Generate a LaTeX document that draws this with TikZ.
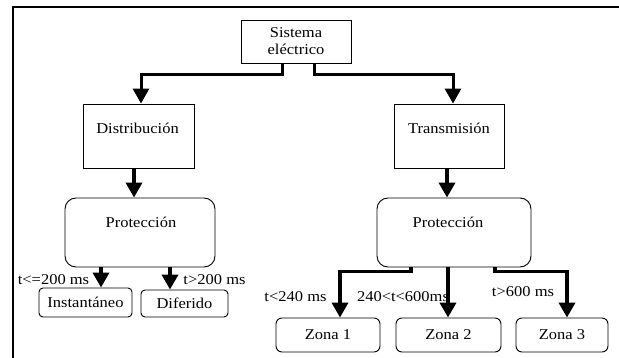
\documentclass[tikz,border=0pt]{standalone}
\usepackage{fontspec}
\usepackage{graphicx}
\setmainfont{Liberation Serif}
\usetikzlibrary{arrows.meta}
\newcommand{\wtxt}[1]{\scalebox{1.1}[1]{#1}}
\begin{document}
\begin{tikzpicture}[x=1pt,y=-1pt,
  every node/.style={font=\fontsize{15}{18}\selectfont, inner sep=0pt},
  sqbox/.style={draw, line width=0.9pt},
  rbox/.style={draw, line width=0.9pt, rounded corners=#1},
  txt/.style={},
  arr/.style={line width=3.6pt, -{Triangle[width=16pt,length=15pt]}},
  arrt/.style={line width=3pt, -{Triangle[width=16pt,length=15pt]}}
]
\useasboundingbox (0,0) rectangle (619,358);
\draw[line width=2.5pt] (13,358) -- (13,7) -- (619,7);

% boxes
\node[sqbox, minimum width=110pt, minimum height=43pt, align=center] (sys) at (296,41.5)
  {\wtxt{Sistema}\\[-1pt]\wtxt{eléctrico}};
\node[sqbox, minimum width=111pt, minimum height=64pt] (dist) at (138.5,136) {};
\node[txt] (distT) at (137.5,128) {\wtxt{Distribución}};
\node[sqbox, minimum width=110pt, minimum height=64pt] (trans) at (449,136) {};
\node[txt] (transT) at (449,128) {\wtxt{Transmisión}};

\node[rbox=11pt, minimum width=150pt, minimum height=69pt] (protL) at (140,232.5) {};
\node[txt] (protLT) at (141,222) {\wtxt{Protección}};
\node[rbox=11pt, minimum width=154pt, minimum height=69pt] (protR) at (454,232.5) {};
\node[txt] (protRT) at (448,222) {\wtxt{Protección}};

\node[rbox=4pt, minimum width=93pt, minimum height=29pt] (inst) at (85.5,302.5) {\wtxt{Instantáneo}};
\node[rbox=4pt, minimum width=87pt, minimum height=27pt] (dif) at (184.5,303.5) {\wtxt{Diferido}};

\node[rbox=6pt, minimum width=104pt, minimum height=34pt] (z1) at (328,335) {\wtxt{Zona 1}};
\node[rbox=6pt, minimum width=105pt, minimum height=34pt] (z2) at (448.5,335) {\wtxt{Zona 2}};
\node[rbox=6pt, minimum width=92pt, minimum height=34pt] (z3) at (562,335) {\wtxt{Zona 3}};

% labels
\node (l1) at (53.5,280) {\wtxt{t<=200 ms}};
\node (l2) at (214.5,280) {\wtxt{t>200 ms}};
\node (l3) at (295.5,297) {\wtxt{t<240 ms}};
\node (l4) at (403,297) {\wtxt{240<t<600ms}};
\node (l5) at (523,292) {\wtxt{t>600 ms}};

% connectors
\draw[arrt] ([xshift=-14pt]sys.south) -- ++(0,11) -| ([xshift=2.5pt]dist.north);
\draw[arrt] ([xshift=18pt]sys.south) -- ++(0,11) -| ([xshift=4pt]trans.north);

\draw[arr] ([xshift=-4.5pt]dist.south) -- ([xshift=-4.5pt]dist.south |- protL.north);
\draw[arr] ([xshift=-2pt]trans.south) -- ([xshift=-2pt]trans.south |- protR.north);

\draw[arr] ([xshift=-39pt]protL.south) -- ([xshift=-39pt]protL.south |- inst.north);
\draw[arr] ([xshift=30pt]protL.south) -- ([xshift=30pt]protL.south |- dif.north);

\draw[arr] ([xshift=-43pt]protR.south) -- ++(0,4) -| ([xshift=12pt]z1.north);
\draw[arr] ([xshift=-6pt]protR.south) -- ([xshift=-6pt]protR.south |- z2.north);
\draw[arr] ([xshift=41pt]protR.south) -- ++(0,4) -| ([xshift=5pt]z3.north);
\end{tikzpicture}
\end{document}
